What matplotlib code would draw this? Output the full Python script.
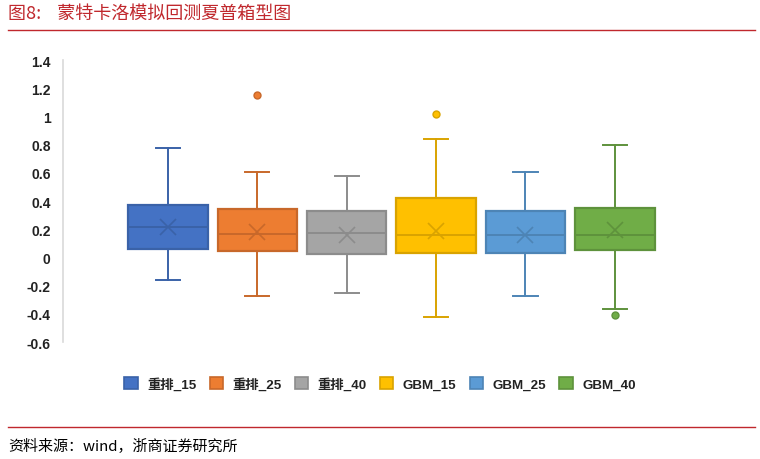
import matplotlib
matplotlib.use("Agg")
import matplotlib.pyplot as plt
from matplotlib.lines import Line2D
from matplotlib.patches import Patch

plt.rcParams["font.family"] = ["Liberation Sans", "Noto Sans CJK SC", "DejaVu Sans"]

labels = ["重排_15", "重排_25", "重排_40", "GBM_15", "GBM_25", "GBM_40"]
q1 = [0.06, 0.045, 0.024, 0.034, 0.031, 0.055]
med = [0.22, 0.166, 0.173, 0.161, 0.161, 0.161]
q3 = [0.373, 0.343, 0.329, 0.424, 0.327, 0.353]
lo = [-0.158, -0.274, -0.25, -0.42, -0.27, -0.368]
hi = [0.78, 0.608, 0.58, 0.84, 0.61, 0.795]
mean = [0.218, 0.182, 0.159, 0.19, 0.16, 0.194]
fliers = [[], [1.154], [], [1.019], [], [-0.408]]

fill = ["#4472C4", "#ED7D31", "#A5A5A5", "#FFC000", "#5B9BD5", "#70AD47"]
edge = ["#3A62A8", "#C8682A", "#8C8C8C", "#D9A300", "#4D84B5", "#5E923C"]

yticks = [-0.6, -0.4, -0.2, 0, 0.2, 0.4, 0.6, 0.8, 1, 1.2, 1.4]
ytick_labels = ["-0.6", "-0.4", "-0.2", "0", "0.2", "0.4", "0.6", "0.8", "1", "1.2", "1.4"]


def main():
    fig = plt.figure(figsize=(7.6, 4.6), dpi=100)
    ax = fig.add_axes([0.083, 0.254, 0.864, 0.613])

    stats = []
    for i in range(len(labels)):
        stats.append(dict(med=med[i], q1=q1[i], q3=q3[i], whislo=lo[i], whishi=hi[i],
                          mean=mean[i], fliers=fliers[i], label=labels[i]))
    pos = list(range(1, len(labels) + 1))
    parts = ax.bxp(stats, positions=pos, widths=0.89, capwidths=0.27,
                   patch_artist=True, showmeans=True, manage_ticks=False)

    for i in range(len(labels)):
        parts["boxes"][i].set(facecolor=fill[i], edgecolor=edge[i], linewidth=1.6)
        parts["medians"][i].set(color=edge[i], linewidth=1.4)
        parts["means"][i].set(marker="x", markersize=11, markeredgecolor=edge[i],
                              markeredgewidth=1.2, markerfacecolor="none")
        for ln in parts["whiskers"][2 * i:2 * i + 2] + parts["caps"][2 * i:2 * i + 2]:
            ln.set(color=edge[i], linewidth=1.4)
        parts["fliers"][i].set(marker="o", markersize=5, markerfacecolor=fill[i],
                               markeredgecolor=edge[i], markeredgewidth=1)

    ax.set_xlim(-0.173, 7.173)
    ax.set_ylim(-0.6, 1.4)
    ax.set_yticks(yticks)
    ax.set_yticklabels(ytick_labels, fontsize=10, fontweight="bold", color="#222222")
    ax.set_xticks([])
    ax.tick_params(axis="y", length=0, pad=9)
    for s in ["top", "right", "bottom"]:
        ax.spines[s].set_visible(False)
    ax.spines["left"].set_color("#D9D9D9")
    ax.spines["left"].set_linewidth(1.2)

    handles = [Patch(facecolor=fill[i], edgecolor=edge[i], linewidth=1.2) for i in range(len(labels))]
    leg = fig.legend(handles, labels, loc="center", bbox_to_anchor=(0.5, 0.163), ncol=6,
                     frameon=False, handlelength=1.0, handleheight=1.0, handletextpad=0.7,
                     columnspacing=1.0, prop={"size": 9.6, "weight": "bold"})
    for t in leg.get_texts():
        t.set_color("#222222")

    red = "#C0282D"
    fig.text(0.011, 0.97, "图8:    蒙特卡洛模拟回测夏普箱型图", fontsize=13, color=red,
             family=["Noto Sans CJK SC"], va="center", ha="left")
    fig.add_artist(Line2D([0.011, 0.993], [0.933, 0.933], color=red, linewidth=1))
    fig.add_artist(Line2D([0.011, 0.993], [0.070, 0.070], color=red, linewidth=1))
    fig.text(0.011, 0.030, "资料来源：wind，浙商证券研究所", fontsize=10.8, color="black",
             family=["Noto Sans CJK SC"], va="center", ha="left")

    fig.savefig("out.png", dpi=100)


if __name__ == "__main__":
    main()
